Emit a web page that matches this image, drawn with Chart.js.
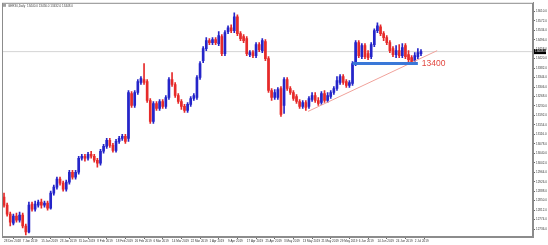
<!DOCTYPE html>
<html>
<head>
<meta charset="utf-8">
<script src="https://cdn.jsdelivr.net/npm/chart.js@4.4.1/dist/chart.umd.min.js"></script>
<style>
  html, body { margin: 0; padding: 0; background: #fff; }
  #chart { display: block; }
</style>
</head>
<body>
<canvas id="chart" width="548" height="245"></canvas>
<script>
// Daily candles
const openPrices = [
  12864,12832,12796,12760,12788,12772,12792,12748,12724,12836,
  12816,12832,12844,12832,12840,12820,12880,12904,12936,12920,
  12896,12924,12964,12944,12964,13020,13028,13020,13036,13028,
  13012,13000,13048,13068,13092,13072,13052,13088,13100,13108,
  13100,13280,13232,13284,13324,13336,13328,13252,13168,13240,
  13220,13248,13228,13264,13336,13316,13272,13248,13228,13212,
  13236,13260,13264,13344,13412,13460,13492,13484,13496,13480,
  13508,13440,13528,13544,13532,13588,13520,13508,13500,13436,
  13444,13432,13476,13452,13488,13420,13292,13264,13264,13300,
  13232,13336,13300,13284,13268,13248,13228,13244,13228,13256,
  13272,13252,13244,13280,13252,13268,13284,13300,13324,13348,
  13328,13312,13320,13400,13484,13428,13472,13440,13428,13476,
  13532,13548,13520,13504,13484,13460,13436,13452,13432,13472,
  13436,13424,13412,13428,13440
];
const highPrices = [
  12880,12840,12804,12796,12800,12804,12800,12756,12844,12844,
  12848,12852,12856,12848,12848,12888,12912,12944,12944,12928,
  12932,12972,12972,12972,13028,13036,13036,13044,13048,13036,
  13020,13056,13076,13100,13100,13080,13096,13108,13116,13116,
  13292,13288,13292,13336,13348,13400,13336,13260,13248,13248,
  13256,13256,13272,13344,13364,13324,13280,13256,13236,13244,
  13268,13280,13352,13408,13468,13504,13500,13504,13504,13528,
  13516,13532,13552,13556,13604,13596,13528,13516,13508,13452,
  13452,13484,13484,13500,13496,13428,13300,13296,13304,13308,
  13344,13344,13308,13292,13276,13256,13252,13252,13268,13284,
  13284,13264,13288,13292,13284,13292,13308,13348,13356,13356,
  13336,13332,13408,13492,13492,13480,13480,13452,13484,13540,
  13564,13556,13528,13512,13492,13468,13472,13476,13480,13480,
  13452,13432,13444,13460,13456
];
const lowPrices = [
  12824,12788,12748,12752,12764,12764,12740,12712,12720,12808,
  12808,12824,12820,12824,12812,12816,12872,12896,12912,12888,
  12888,12916,12936,12936,12956,13012,13008,13012,13020,13004,
  12984,12992,13040,13060,13064,13044,13044,13080,13092,13080,
  13088,13224,13224,13276,13316,13316,13244,13160,13160,13212,
  13212,13220,13220,13256,13308,13264,13240,13216,13204,13204,
  13228,13252,13256,13336,13404,13452,13476,13476,13476,13472,
  13432,13432,13520,13524,13524,13512,13492,13484,13432,13428,
  13424,13424,13448,13444,13412,13284,13252,13256,13256,13188,
  13200,13292,13276,13252,13240,13220,13220,13212,13220,13248,
  13244,13232,13236,13244,13244,13260,13276,13292,13316,13316,
  13304,13304,13312,13392,13424,13420,13420,13416,13420,13468,
  13524,13512,13492,13476,13444,13428,13424,13424,13424,13420,
  13408,13400,13404,13420,13432
];
const closePrices = [
  12832,12796,12764,12788,12772,12792,12748,12724,12832,12816,
  12836,12844,12832,12840,12820,12880,12904,12936,12920,12896,
  12924,12964,12944,12964,13020,13028,13020,13036,13028,13012,
  13000,13048,13068,13092,13072,13052,13088,13100,13108,13088,
  13284,13232,13284,13328,13340,13324,13252,13168,13240,13220,
  13248,13228,13264,13336,13316,13272,13248,13228,13212,13236,
  13260,13272,13344,13400,13460,13492,13484,13496,13484,13512,
  13440,13524,13544,13532,13588,13520,13500,13492,13440,13444,
  13432,13476,13456,13492,13420,13292,13264,13284,13296,13196,
  13336,13300,13284,13260,13248,13228,13244,13224,13260,13272,
  13252,13240,13280,13252,13272,13284,13300,13332,13348,13324,
  13312,13324,13400,13484,13432,13472,13428,13424,13476,13532,
  13552,13520,13504,13484,13452,13436,13452,13432,13464,13428,
  13416,13408,13432,13444,13448
];

// Axis labels
const dateLabels = [
  '28 Dec 2018', '7 Jan 2019', '15 Jan 2019', '23 Jan 2019', '31 Jan 2019',
  '8 Feb 2019', '18 Feb 2019', '26 Feb 2019', '6 Mar 2019', '14 Mar 2019',
  '22 Mar 2019', '1 Apr 2019', '9 Apr 2019', '17 Apr 2019', '25 Apr 2019',
  '3 May 2019', '13 May 2019', '21 May 2019', '29 May 2019', '6 Jun 2019',
  '14 Jun 2019', '24 Jun 2019', '2 Jul 2019'
];
const labelStep = 6; // one date label every 6 bars
const priceTicks = [
  13610, 13572, 13534, 13496, 13458, 13420, 13382, 13344, 13306, 13268,
  13230, 13192, 13154, 13116, 13078, 13040, 13002, 12964, 12926, 12888,
  12850, 12812, 12774, 12736
];

// Drawn objects
const levelPrice = 13400;
const levelText = '13400';
const levelFrom = 112;
const levelTo = 133;
const trendPoints = [{ x: 97.7, y: 13208 }, { x: 139.2, y: 13452 }];
const symbolName = 'GER30,Daily';

const upColor = '#2525c9';
const downColor = '#e62a2a';

const lastIndex = closePrices.length - 1;
const lastClose = closePrices[lastIndex];
const barIndex = closePrices.map((_, i) => i);
const candleColors = barIndex.map(i => closePrices[i] >= openPrices[i] ? upColor : downColor);

const titleText = symbolName + '  ' + [openPrices[lastIndex], highPrices[lastIndex],
  lowPrices[lastIndex], lastClose].map(v => v.toFixed(1)).join(' ');

// Frame, header, annotation text and last price tag
const decorations = {
  id: 'decorations',
  afterDraw(chart) {
    const { ctx, chartArea, scales } = chart;
    ctx.save();
    ctx.strokeStyle = '#8c8c8c';
    ctx.lineWidth = 1;
    ctx.strokeRect(chartArea.left + 0.5, chartArea.top + 0.5, chartArea.width - 1, chartArea.height - 1);

    ctx.fillStyle = '#a0a0a0';
    ctx.fillRect(chartArea.left + 1, chartArea.top + 1, 3, 3);
    ctx.font = '3px "Liberation Sans"';
    ctx.fillStyle = '#444';
    ctx.textBaseline = 'top';
    ctx.fillText(titleText, chartArea.left + 6, chartArea.top + 1.5);

    ctx.font = '8.5px "Liberation Sans"';
    ctx.fillStyle = '#e2463e';
    ctx.textBaseline = 'middle';
    ctx.fillText(levelText, scales.x.getPixelForValue(levelTo) + 4, scales.y.getPixelForValue(levelPrice) + 0.5);

    const y = scales.y.getPixelForValue(lastClose);
    ctx.fillStyle = '#000';
    ctx.fillRect(chartArea.right + 1, y - 2.5, 12, 5);
    ctx.fillStyle = '#fff';
    ctx.font = '3px "Liberation Sans"';
    ctx.textAlign = 'left';
    ctx.fillText(lastClose.toFixed(1), chartArea.right + 2, y);
    ctx.restore();
  }
};

const ctx = document.getElementById('chart').getContext('2d');
const chart = new Chart(ctx, {
  type: 'bar',
  data: {
    datasets: [
      {
        type: 'line',
        data: [{ x: levelFrom, y: levelPrice }, { x: levelTo, y: levelPrice }],
        borderColor: '#3a78d8',
        borderWidth: 3,
        pointRadius: 0,
        order: 0
      },
      {
        type: 'line',
        data: trendPoints,
        borderColor: '#f0a29b',
        borderWidth: 1,
        pointRadius: 0,
        order: 0
      },
      {
        type: 'bar',
        data: barIndex.map(i => ({ x: i, y: [openPrices[i], closePrices[i]] })),
        backgroundColor: candleColors,
        barThickness: 2,
        grouped: false,
        order: 1
      },
      {
        type: 'bar',
        data: barIndex.map(i => ({ x: i, y: [lowPrices[i], highPrices[i]] })),
        backgroundColor: candleColors,
        barThickness: 1,
        grouped: false,
        order: 2
      },
      {
        type: 'line',
        data: [{ x: -1, y: lastClose }, { x: 171, y: lastClose }],
        borderColor: '#d4d4d4',
        borderWidth: 1,
        pointRadius: 0,
        order: 3
      }
    ]
  },
  options: {
    responsive: false,
    animation: false,
    layout: { padding: { left: 2, top: 2, right: 0, bottom: 0 } },
    plugins: {
      legend: { display: false },
      tooltip: { enabled: false }
    },
    scales: {
      x: {
        type: 'linear',
        offset: false,
        min: -0.65,
        max: 170,
        grid: { drawOnChartArea: false, tickLength: 2, color: '#666' },
        border: { color: '#8c8c8c' },
        ticks: {
          font: { size: 3, family: 'Liberation Sans' },
          color: '#333',
          padding: 0,
          maxRotation: 0,
          autoSkip: false,
          align: 'start',
          callback: (v, k) => dateLabels[k]
        },
        afterBuildTicks: s => { s.ticks = dateLabels.map((_, k) => ({ value: k * labelStep })); },
        afterFit: s => { s.height = 8; }
      },
      y: {
        position: 'right',
        min: 12704,
        max: 13644,
        grid: { drawOnChartArea: false, tickLength: 2, color: '#666' },
        border: { color: '#8c8c8c' },
        ticks: {
          font: { size: 3, family: 'Liberation Sans' },
          color: '#333',
          padding: 1,
          autoSkip: false,
          callback: v => v.toFixed(1)
        },
        afterBuildTicks: s => { s.ticks = priceTicks.map(v => ({ value: v })); },
        afterFit: s => { s.width = 15; }
      }
    }
  },
  plugins: [decorations]
});
</script>
</body>
</html>
